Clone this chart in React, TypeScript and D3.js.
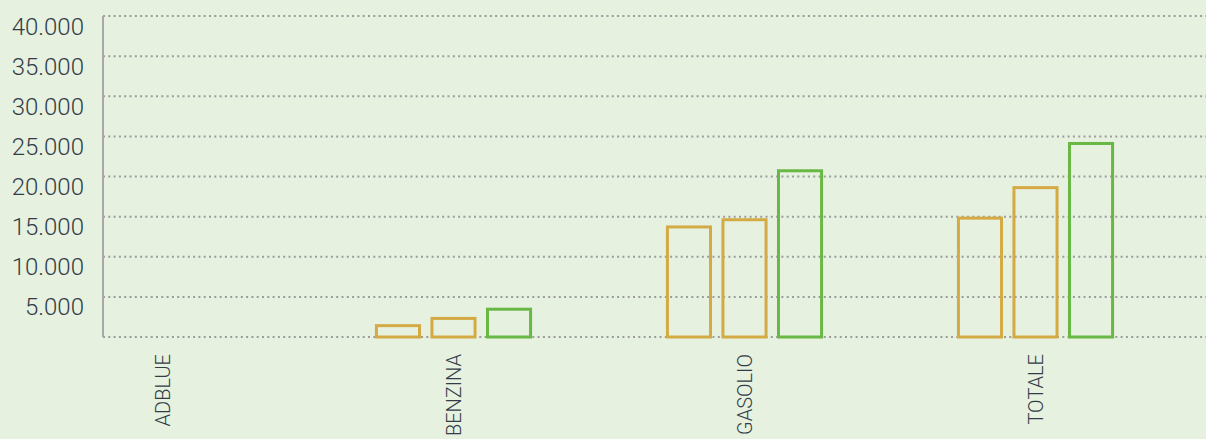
import * as d3 from "d3";
import { useEffect, useRef } from "react";

const categories = ["ADBLUE", "BENZINA", "GASOLIO", "TOTALE"];
const seriesKeys = ["serie1", "serie2", "serie3"];
const serie1 = [0, 1600, 13900, 15000];
const serie2 = [0, 2500, 14800, 18800];
const serie3 = [0, 3650, 20900, 24300];
const yTicks = [5000, 10000, 15000, 20000, 25000, 30000, 35000, 40000];

const seriesValues = [serie1, serie2, serie3];
const seriesColors = ["#D4AA45", "#D4AA45", "#69B845"];

const App = () => {
  const chartRef = useRef<HTMLDivElement>(null);

  useEffect(() => {
    const width = 1206;
    const height = 439;
    const axisX = 103;
    const top = 16;
    const bottom = 337;
    const strokeW = 3;

    d3.select(chartRef.current).select("svg").remove();

    const svg = d3
      .select(chartRef.current)
      .append("svg")
      .attr("width", width)
      .attr("height", height)
      .style("position", "absolute")
      .style("left", "0px")
      .style("top", "0px")
      .style("font-family", "Roboto");

    svg
      .append("rect")
      .attr("width", width)
      .attr("height", height)
      .attr("fill", "#E6F1E0");

    const y = d3.scaleLinear().domain([0, 40000]).range([bottom, top]);

    // categories are not evenly spread in the original, this is a best fit
    const x = d3
      .scaleBand<string>()
      .domain(categories)
      .range([17, 1181])
      .paddingInner(0.46)
      .paddingOuter(0.23);

    const xSub = d3
      .scaleBand<string>()
      .domain(seriesKeys)
      .range([0, x.bandwidth()])
      .paddingInner(0.17);

    const fmt = d3.formatLocale({
      decimal: ",",
      thousands: ".",
      grouping: [3],
      currency: ["€", ""],
    }).format(",");

    // grid
    svg
      .append("g")
      .selectAll("line")
      .data([0, ...yTicks])
      .join("line")
      .attr("x1", axisX)
      .attr("x2", width)
      .attr("y1", (d) => y(d))
      .attr("y2", (d) => y(d))
      .attr("stroke", "#9C9C9C")
      .attr("stroke-width", 2)
      .attr("stroke-dasharray", "2,3.3");

    svg
      .append("line")
      .attr("x1", axisX)
      .attr("x2", axisX)
      .attr("y1", top)
      .attr("y2", bottom)
      .attr("stroke", "#A8A8A8")
      .attr("stroke-width", 2);

    svg
      .append("g")
      .selectAll("text")
      .data(yTicks)
      .join("text")
      .attr("x", 84)
      .attr("y", (d) => y(d) + 18.5)
      .attr("text-anchor", "end")
      .attr("font-size", 24)
      .attr("font-weight", 300)
      .attr("fill", "#333C46")
      .text((d) => fmt(d));

    // bars
    const groups = svg
      .append("g")
      .selectAll("g")
      .data(categories)
      .join("g")
      .attr("transform", (d) => `translate(${x(d)},0)`);

    groups
      .selectAll("rect")
      .data((d, i) =>
        seriesKeys
          .map((k, s) => ({ key: k, value: seriesValues[s][i], color: seriesColors[s] }))
          .filter((e) => e.value > 0)
      )
      .join("rect")
      .attr("x", (d) => (xSub(d.key) as number) + strokeW / 2)
      .attr("width", xSub.bandwidth() - strokeW)
      .attr("y", (d) => y(d.value) + strokeW / 2)
      .attr("height", (d) => y(0) - y(d.value) - strokeW / 2)
      .attr("fill", "none")
      .attr("stroke", (d) => d.color)
      .attr("stroke-width", strokeW);

    // category labels
    svg
      .append("g")
      .selectAll("text")
      .data(categories)
      .join("text")
      .attr(
        "transform",
        (d) => `translate(${(x(d) as number) + x.bandwidth() / 2},354) rotate(-90)`
      )
      .attr("text-anchor", "end")
      .attr("dy", "0.35em")
      .attr("font-size", 20)
      .attr("font-weight", 300)
      .attr("fill", "#333C46")
      .text((d) => d);
  }, []);

  return <div ref={chartRef}></div>;
};

export default App;
